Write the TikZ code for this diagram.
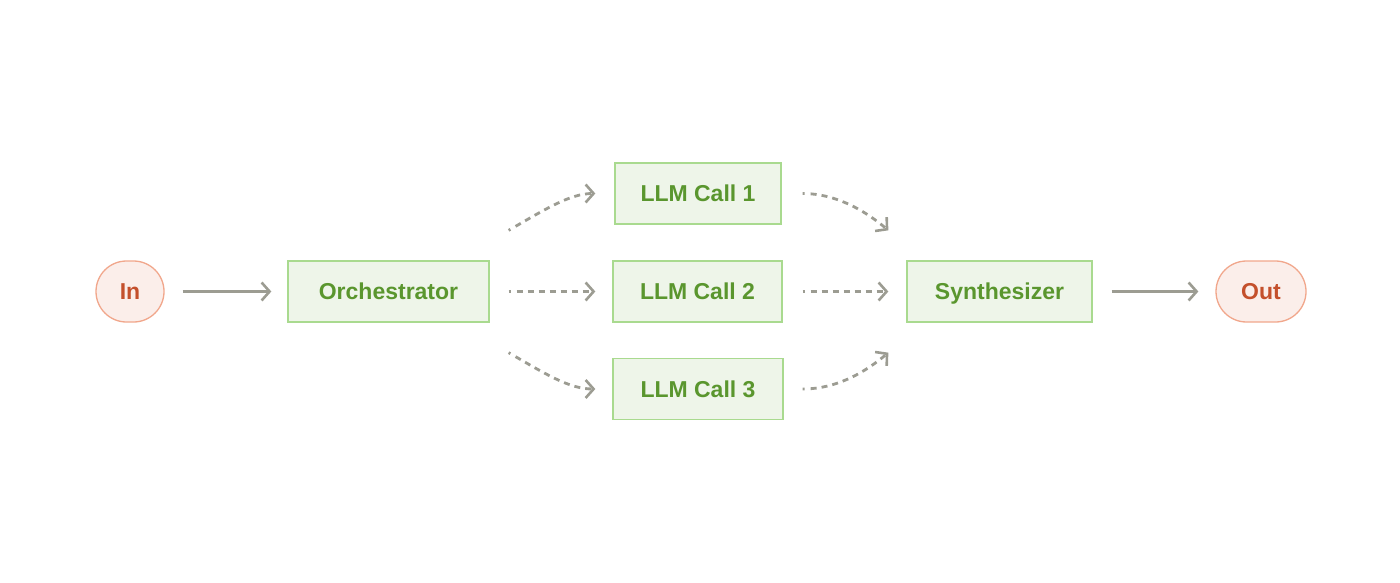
\documentclass[tikz,border=0pt]{standalone}
\usepackage{fontspec}
\setmainfont{Liberation Sans}
\usetikzlibrary{arrows.meta}
\definecolor{gtext}{HTML}{5A962E}
\definecolor{gfill}{HTML}{EEF5E9}
\definecolor{gline}{HTML}{A9DA8F}
\definecolor{rtext}{HTML}{C4502C}
\definecolor{rfill}{HTML}{FBEEEA}
\definecolor{rline}{HTML}{F1A78C}
\definecolor{arr}{HTML}{9C9C92}
\tikzset{
  gbox/.style={draw=gline, fill=gfill, line width=1.3pt, text=gtext, font=\fontsize{23}{27}\selectfont\bfseries, minimum height=61pt, inner sep=0pt, text height=16.5pt, text depth=0pt},
  pill/.style={draw=rline, fill=rfill, line width=1.3pt, text=rtext, font=\fontsize{23}{27}\selectfont\bfseries, minimum height=61pt, rounded corners=30.5pt, inner sep=0pt, text height=16.5pt, text depth=0pt},
  tip/.style={-{Straight Barb[length=8pt,width=18pt,line width=2.6pt]}},
  solidarrow/.style={draw=arr, line width=2.6pt, tip},
  dasharrow/.style={draw=arr, line width=2.8pt, tip,
    dash pattern=on 2pt off 6pt on 6pt off 5pt on 6pt off 5pt on 6pt off 5pt on 6pt off 5pt on 6pt off 5pt on 6pt off 5pt on 6pt off 5pt on 6pt off 5pt on 6pt off 30pt}
}
\begin{document}
\begin{tikzpicture}[x=1pt,y=-1pt]
\useasboundingbox (0,0) rectangle (1400,583);
\node[pill, minimum width=68pt] (in) at (130,291.5) {In};
\node[gbox, minimum width=201pt] (orch) at (388.5,291.5) {Orchestrator};
\node[gbox, minimum width=166pt] (c1) at (698,193.5) {LLM Call 1};
\node[gbox, minimum width=169pt] (c2) at (697.5,291.5) {LLM Call 2};
\node[gbox, minimum width=170pt] (c3) at (698,389) {LLM Call 3};
\node[gbox, minimum width=185pt] (syn) at (999.5,291.5) {Synthesizer};
\node[pill, minimum width=90pt] (out) at (1261,291.5) {Out};

\coordinate (o1) at ([shift={(19,-30)}]orch.north east);
\coordinate (o3) at ([shift={(19,30)}]orch.south east);
\coordinate (s1) at ([shift={(-18,-30)}]syn.north west);
\coordinate (s3) at ([shift={(-18,30)}]syn.south west);

\draw[solidarrow, shorten <=18pt, shorten >=16pt] (in) -- (orch);
\draw[dasharrow, shorten <=19pt, shorten >=17pt] (orch) -- (c2);
\draw[dasharrow, shorten >=19pt] (o1) to[out=30,in=180] (c1.west);
\draw[dasharrow, shorten >=17pt] (o3) to[out=-30,in=180] (c3.west);
\draw[dasharrow, shorten <=20pt, shorten >=18pt] (c2) -- (syn);
\draw[dasharrow, shorten <=21pt] (c1.east) to[out=0,in=140] (s1);
\draw[dasharrow, shorten <=19pt] (c3.east) to[out=0,in=-140] (s3);
\draw[solidarrow, shorten <=19pt, shorten >=17pt] (syn) -- (out);
\end{tikzpicture}
\end{document}
